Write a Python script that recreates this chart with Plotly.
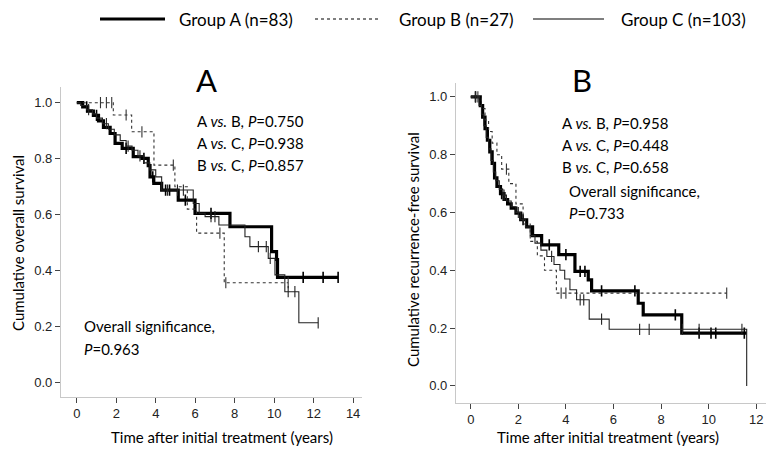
import plotly.graph_objects as go
import numpy as np

# ---------------- data ----------------
# Panel A: overall survival (event times, survival after event)
osA_t = [0, 0.3, 0.55, 0.84, 1.1, 1.35, 1.69, 1.94, 2.3, 2.86, 3.3, 3.62, 3.71, 3.9, 4.3, 5.14, 5.99, 7.76, 9.87, 10.12, 10.17]
osA_s = [1.0, 0.985, 0.97, 0.955, 0.935, 0.912, 0.89, 0.855, 0.837, 0.807, 0.801, 0.775, 0.735, 0.712, 0.688, 0.652, 0.605, 0.557, 0.468, 0.44, 0.376]
osA_c = [0.5, 1.0, 2.5, 3.4, 3.85, 4.5, 4.7, 5.5, 6.8, 11.47, 12.48, 13.24]
osA_end = 13.24

osB_t = [0, 1.85, 2.78, 3.91, 4.97, 5.6, 6.07, 7.47]
osB_s = [1.0, 0.956, 0.896, 0.777, 0.70, 0.62, 0.534, 0.357]
osB_c = [1.2, 1.5, 1.77, 2.5, 3.3, 4.89, 7.25, 7.55, 10.71]
osB_end = 10.71

osC_t = [0, 0.2, 0.5, 0.8, 1.0, 1.3, 1.6, 1.9, 2.2, 2.5, 2.8, 3.1, 3.4, 3.7, 4.0, 4.3, 5.9, 6.2, 6.5, 7.2, 8.52, 8.77, 9.7, 10.04, 10.54, 11.25]
osC_s = [1.0, 0.99, 0.975, 0.96, 0.945, 0.925, 0.905, 0.885, 0.865, 0.845, 0.83, 0.81, 0.785, 0.76, 0.735, 0.688, 0.64, 0.605, 0.593, 0.563, 0.521, 0.486, 0.444, 0.385, 0.325, 0.214]
osC_c = [0.6, 1.5, 2.6, 3.2, 4.6, 5.1, 5.4, 6.8, 7.0, 9.2, 9.6, 9.8, 10.71, 11.05, 12.23]
osC_end = 12.23

# Panel B: recurrence-free survival
rfsA_t = [0, 0.4, 0.5, 0.6, 0.7, 0.8, 0.9, 1.0, 1.1, 1.25, 1.4, 1.55, 1.7, 1.9, 2.1, 2.35, 2.6, 2.98, 3.7, 4.38, 4.94, 5.08, 7.04, 7.25, 8.87]
rfsA_s = [1.0, 0.97, 0.93, 0.89, 0.85, 0.81, 0.77, 0.72, 0.69, 0.665, 0.645, 0.63, 0.615, 0.598, 0.575, 0.55, 0.52, 0.488, 0.454, 0.396, 0.367, 0.329, 0.286, 0.246, 0.183]
rfsA_c = [0.2, 1.3, 2.2, 3.3, 4.0, 4.6, 4.8, 5.5, 6.9, 8.6, 9.6, 10.1, 10.3, 11.5]
rfsA_end = 11.6

rfsB_t = [0, 0.45, 0.6, 0.75, 0.9, 1.1, 1.3, 1.6, 1.9, 2.2, 2.5, 2.8, 3.1, 3.6]
rfsB_s = [1.0, 0.96, 0.92, 0.88, 0.84, 0.8, 0.75, 0.7, 0.63, 0.56, 0.5, 0.45, 0.4, 0.321]
rfsB_c = [0.3, 1.5, 3.8, 4.0, 10.76]
rfsB_end = 10.76

rfsC_t = [0, 0.35, 0.45, 0.55, 0.65, 0.75, 0.85, 0.95, 1.05, 1.2, 1.35, 1.5, 1.7, 1.9, 2.1, 2.3, 2.5, 2.7, 2.95, 3.2, 3.5, 3.75, 3.95, 4.17, 4.45, 4.98, 5.82, 11.6]
rfsC_s = [1.0, 0.97, 0.94, 0.9, 0.86, 0.82, 0.78, 0.74, 0.71, 0.68, 0.66, 0.64, 0.62, 0.6, 0.575, 0.55, 0.52, 0.494, 0.47, 0.448, 0.42, 0.40, 0.37, 0.333, 0.298, 0.231, 0.196, 0.0]
rfsC_c = [0.2, 1.4, 2.0, 3.4, 4.6, 4.75, 5.5, 7.1, 7.5, 8.9, 9.6, 11.4]
rfsC_end = 11.6

group_names = ["Group A (n=83)", "Group B (n=27)", "Group C (n=103)"]
x_ticks = [0, 2, 4, 6, 8, 10, 12, 14]
y_ticks = [0.0, 0.2, 0.4, 0.6, 0.8, 1.0]

# ---------------- helpers ----------------
def steps(t, s, end):
    x = list(t) + [end]
    y = list(s) + [s[-1]]
    return x, y

def surv_at(t, s, c):
    t = np.array(t); s = np.array(s)
    out = []
    for ci in c:
        idx = np.searchsorted(t, ci, side="right") - 1
        out.append(s[max(idx, 0)])
    return out

styles = [
    dict(color="black", width=3.2, dash="solid"),
    dict(color="#333333", width=1.1, dash="3px,3px"),
    dict(color="#222222", width=1.1, dash="solid"),
]

fig = go.Figure()

panels = [
    ("x", "y", [(osA_t, osA_s, osA_c, osA_end), (osB_t, osB_s, osB_c, osB_end), (osC_t, osC_s, osC_c, osC_end)]),
    ("x2", "y2", [(rfsA_t, rfsA_s, rfsA_c, rfsA_end), (rfsB_t, rfsB_s, rfsB_c, rfsB_end), (rfsC_t, rfsC_s, rfsC_c, rfsC_end)]),
]
for xa, ya, groups in panels:
    for gi, (t, s, c, end) in enumerate(groups):
        x, y = steps(t, s, end)
        fig.add_trace(go.Scatter(x=x, y=y, mode="lines", line=dict(shape="hv", **styles[gi]),
                                 xaxis=xa, yaxis=ya, showlegend=False, hoverinfo="skip"))
        fig.add_trace(go.Scatter(x=c, y=surv_at(t, s, c), mode="markers",
                                 marker=dict(symbol="line-ns", size=8,
                                             line=dict(width=1.6 if gi == 0 else 1.1, color=styles[gi]["color"])),
                                 xaxis=xa, yaxis=ya, showlegend=False, hoverinfo="skip"))

# page has an 8px body margin: figure occupies window pixels 8..774 / 8..457
OFF = 8
W, H = 774 - OFF, 457 - OFF
def px(v): return (v - OFF) / W
def py(v): return 1 - (v - OFF) / H

axis_common = dict(showgrid=False, zeroline=False, showline=True, linecolor="#c8c8c8", linewidth=1.2,
                   ticks="outside", ticklen=5, tickcolor="#444", tickwidth=1, automargin=False,
                   tickfont=dict(family="Liberation Sans", size=13, color="#222"))

fig.update_layout(
    width=W, height=H, margin=dict(l=0, r=0, t=0, b=0, autoexpand=False),
    paper_bgcolor="white", plot_bgcolor="white",
    xaxis=dict(domain=[px(61), px(362)], range=[-0.8, 14.45], tickvals=x_ticks, anchor="y", **axis_common),
    yaxis=dict(domain=[py(396.7), py(87)], range=[-0.05, 1.056], tickvals=y_ticks, tickformat=".1f", anchor="x", **axis_common),
    xaxis2=dict(domain=[px(456), px(770)], range=[-0.62, 12.58], tickvals=x_ticks[:-1], anchor="y2", **axis_common),
    yaxis2=dict(domain=[py(402.7), py(83)], range=[-0.058, 1.048], tickvals=y_ticks, tickformat=".1f", anchor="x2", **axis_common),
)

font = "Lato"
ann = []
def text(x, y, s, size=15, xanchor="left", angle=0, pad=1):
    ann.append(dict(x=px(x), y=py(y), xref="paper", yref="paper", text=s, showarrow=False,
                    xanchor=xanchor, yanchor="middle", textangle=angle, borderpad=pad,
                    font=dict(family=font, size=size, color="black")))

text(206, 80, "A", size=31, xanchor="center")
text(582, 80, "B", size=31, xanchor="center")
text(195, 121, "A <i>vs.</i> B, <i>P</i>=0.750")
text(195, 143, "A <i>vs.</i> C, <i>P</i>=0.938")
text(195, 165, "B <i>vs.</i> C, <i>P</i>=0.857")
text(82, 326, "Overall significance,")
text(82, 349, "<i>P</i>=0.963")
text(560, 123, "A <i>vs.</i> B, <i>P</i>=0.958")
text(560, 145, "A <i>vs.</i> C, <i>P</i>=0.448")
text(560, 167, "B <i>vs.</i> C, <i>P</i>=0.658")
text(567, 191, "Overall significance,")
text(567, 213, "<i>P</i>=0.733")
text(18, 243, "Cumulative overall survival", size=15, xanchor="center", angle=-90)
text(413, 250, "Cumulative recurrence-free survival", size=15, xanchor="center", angle=-90)
text(222, 437, "Time after initial treatment (years)", size=15, xanchor="center")
text(608, 437, "Time after initial treatment (years)", size=15, xanchor="center")

# legend (drawn manually)
LEG_Y = 19
leg_lines = [(100, 165, styles[0]), (315, 381, styles[1]), (533, 604, styles[2])]
leg_text_x = [178, 398, 620]
shapes = []
for (x0, x1, st), tx, name in zip(leg_lines, leg_text_x, group_names):
    shapes.append(dict(type="line", xref="paper", yref="paper", x0=px(x0), x1=px(x1), y0=py(LEG_Y), y1=py(LEG_Y),
                       line=dict(color="black", width=st["width"], dash=st["dash"])))
    text(tx, LEG_Y, name, size=17, pad=0)
fig.update_layout(annotations=ann, shapes=shapes)

fig.write_html("out.html")
